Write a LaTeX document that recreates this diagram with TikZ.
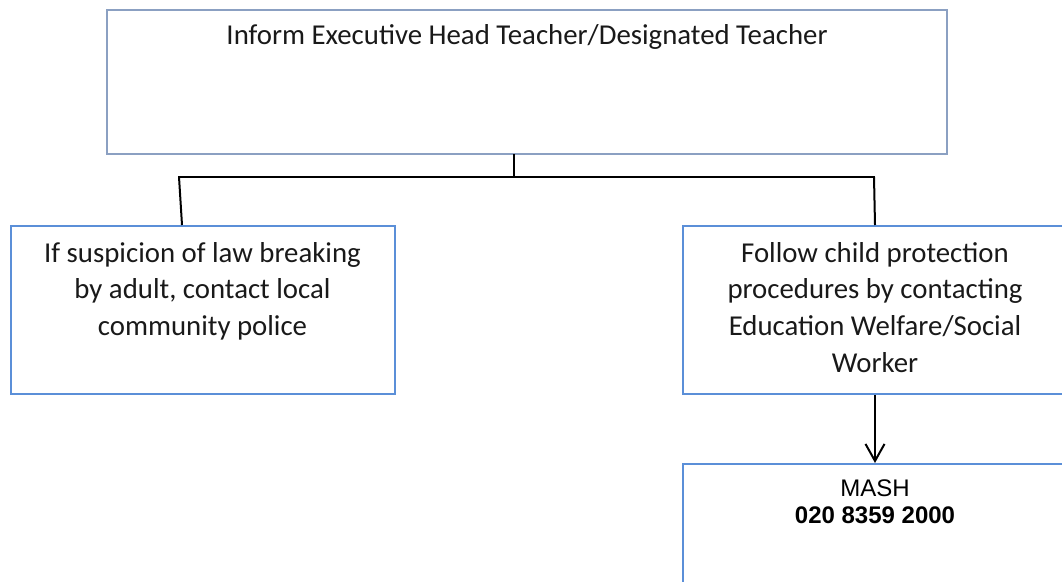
\documentclass[tikz,border=0pt]{standalone}
\usepackage{fontspec}
\setmainfont{Carlito}
\newfontfamily\arialfont{Liberation Sans}
\usetikzlibrary{
		calc,
		positioning,
		arrows.meta
	}
\tikzset{
		>={Straight Barb[length=17pt,width=19pt,line width=2pt]}
	}
\definecolor{topblue}{HTML}{8BA0C2}
\definecolor{boxblue}{HTML}{5B8FD8}

\begin{document}
\begin{tikzpicture}[x=1pt, y=-1pt,
		box/.style={draw=boxblue, line width=2pt, minimum width=384pt, minimum height=168pt, anchor=north west, inner sep=0pt},
		txt/.style={align=center, inner sep=0pt, text=black!90, font=\fontsize{28.8}{36.7}\selectfont},
		mashtxt/.style={align=center, inner sep=0pt, text=black, font=\arialfont\fontsize{24}{27}\selectfont},
		tree/.style={line width=1.2pt, line cap=rect},
		drop/.style={line width=2pt}]
		\useasboundingbox (0,0) rectangle (1062,581);
		% boxes
		\node[box, draw=topblue, minimum width=840pt, minimum height=144pt] (inform) at (106,9) {};
		\node[txt, below=15pt of inform.north] (informtxt) {Inform Executive Head Teacher/Designated Teacher};
		\node[box] (police) at (9.5,225) {};
		\node[txt, below=17pt of police.north] (policetxt) {If suspicion of law breaking\\by adult, contact local\\community police};
		\node[box] (cp) at (682,225) {};
		\node[txt, below=17pt of cp.north] (cptxt) {Follow child protection\\procedures by contacting\\Education Welfare/Social\\Worker};
		\node[box, minimum height=130pt] (mash) at (682,463) {};
		\node[mashtxt, below=17pt of mash.north] (mashtxt) {MASH\\\textbf{020 8359 2000}};
		% connectors
		\coordinate (fork) at (514,177);
		\coordinate (forkL) at (179,177);
		\coordinate (forkR) at (874,177);
		\draw[tree] (inform.south -| fork) -- (fork);
		\draw[tree] (forkL) -- (forkR);
		\draw[drop] (forkL) -- ($(police.north west)+(172.5,0)$);
		\draw[drop] (forkR) -- (cp.north);
		\draw[drop, ->] (cp) -- (mash);
	\end{tikzpicture}
\end{document}
